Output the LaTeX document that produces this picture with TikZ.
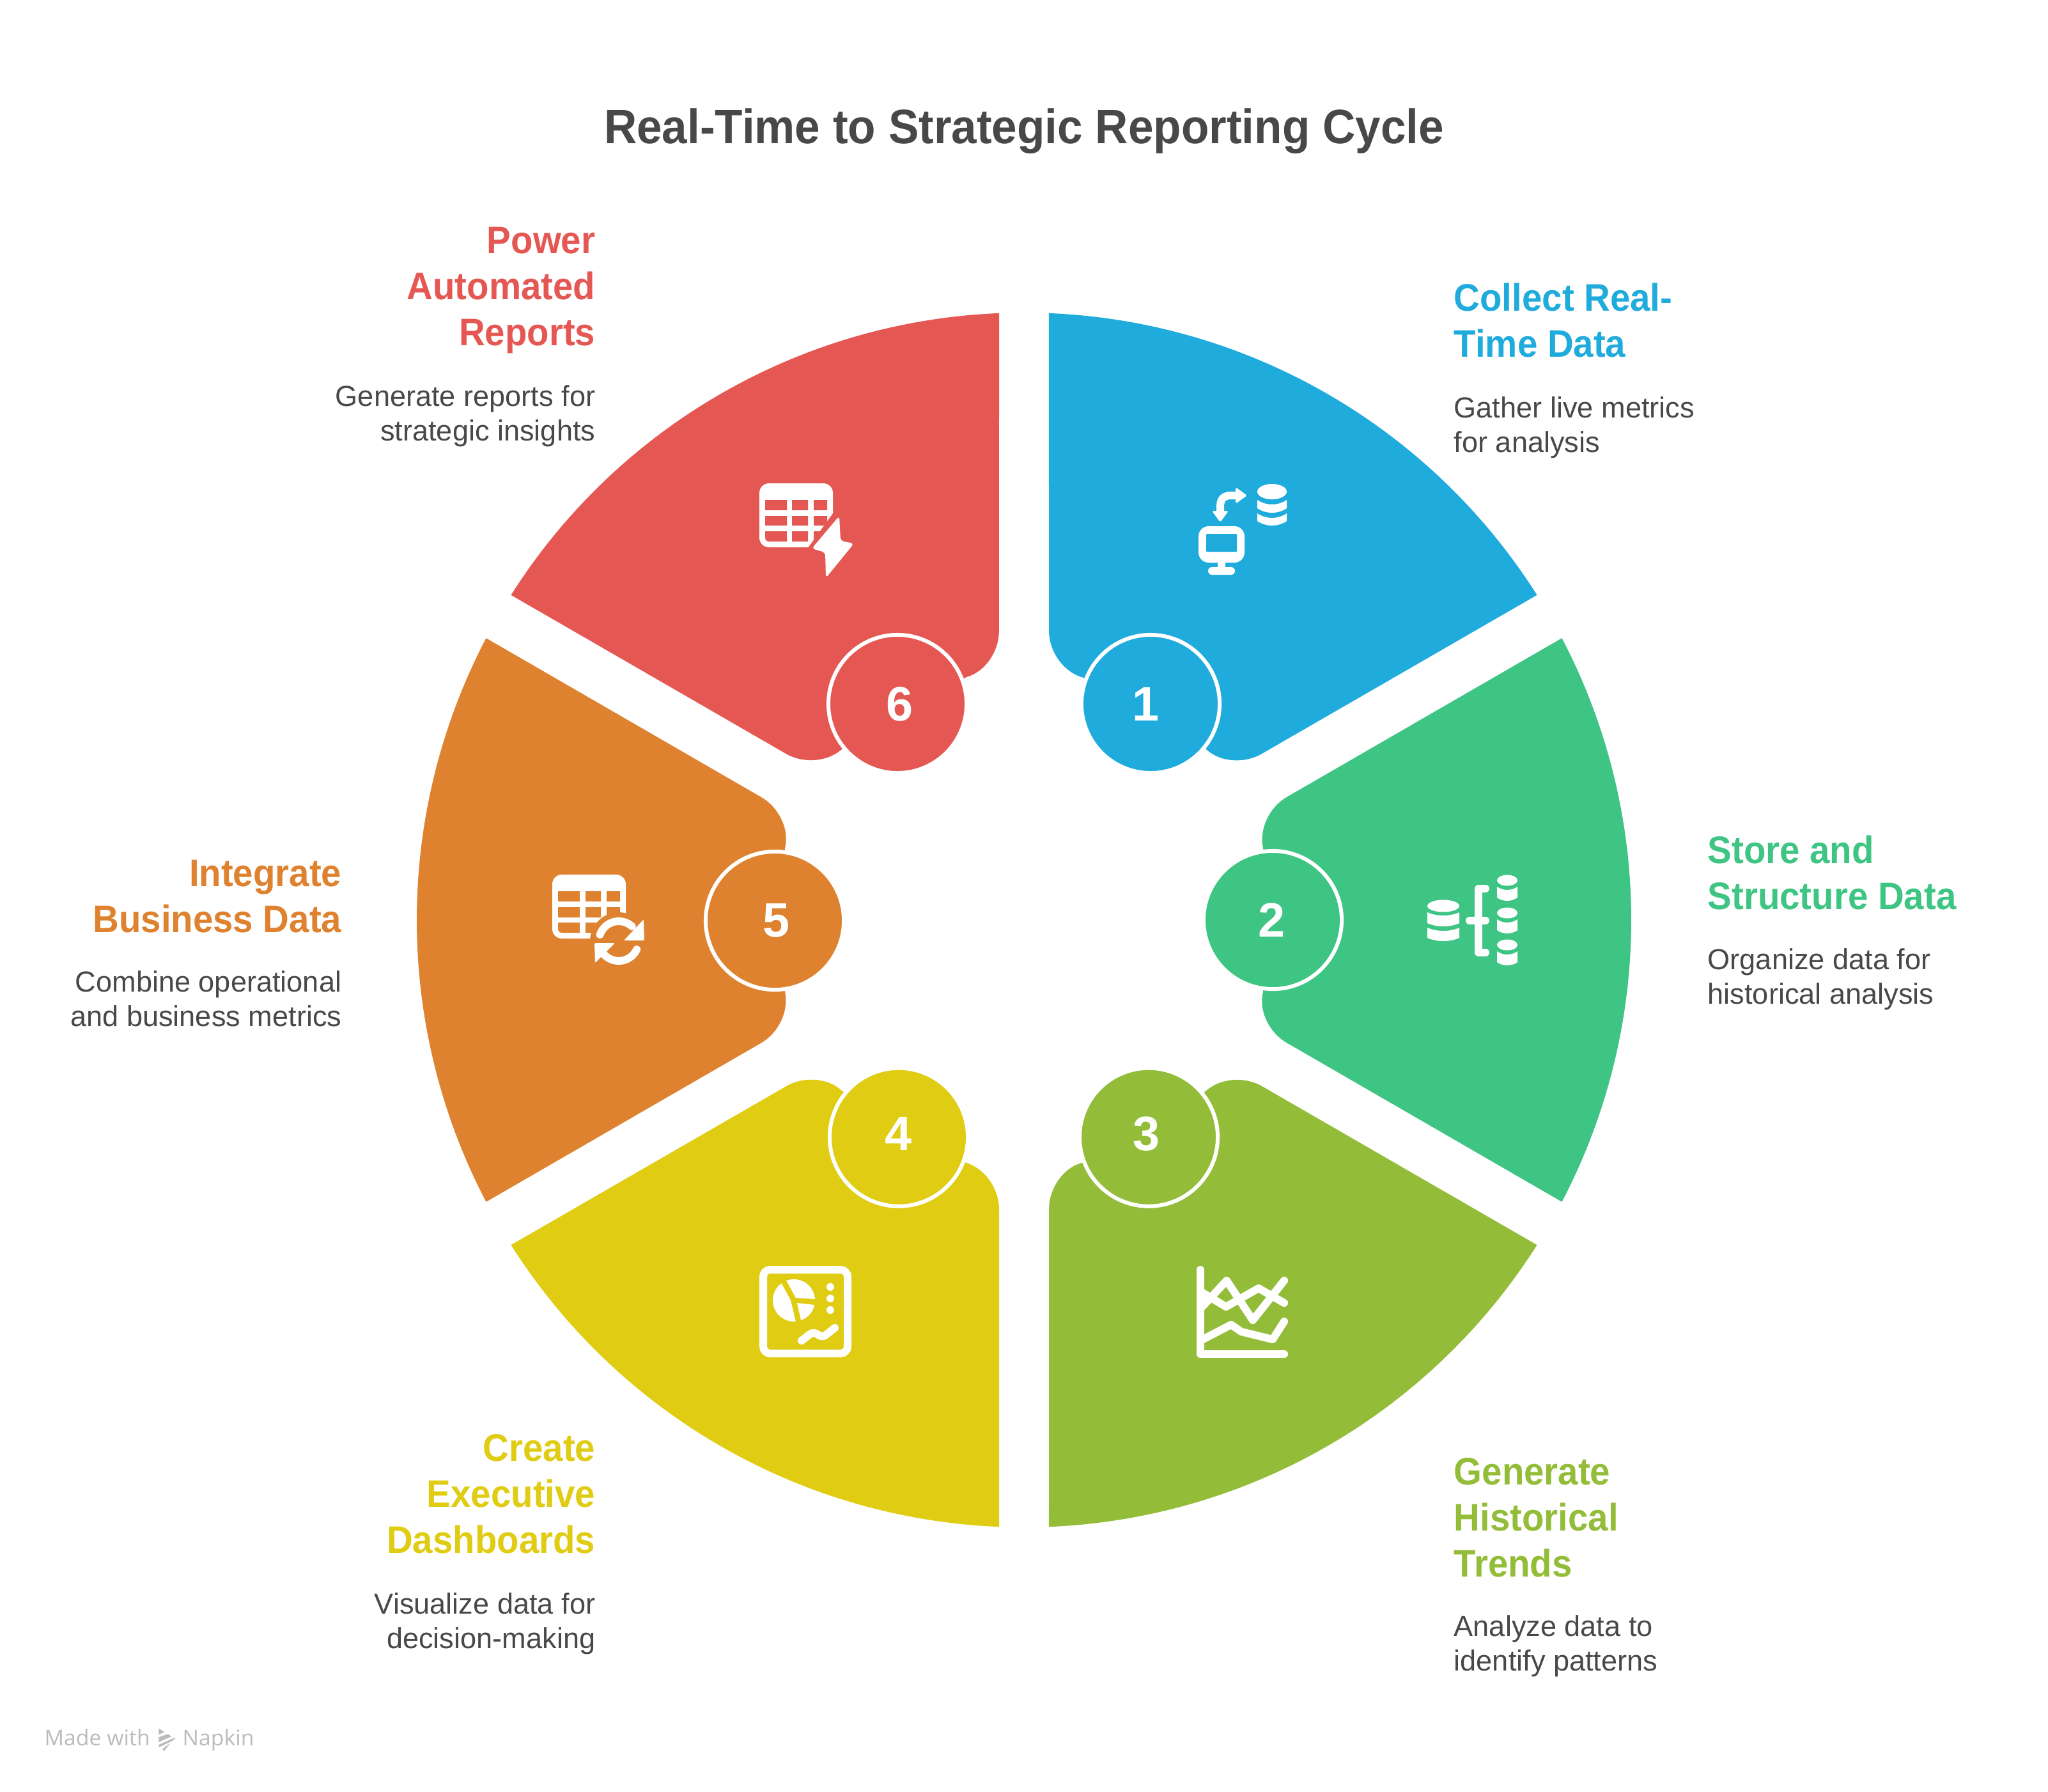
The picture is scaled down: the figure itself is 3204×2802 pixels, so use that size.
\documentclass[tikz,border=0pt]{standalone}
\usepackage{fontspec}
\setmainfont{Liberation Sans}
\newfontfamily\headfont{Liberation Sans}[FakeStretch=0.94]
\newfontfamily\bodyfont{Liberation Sans}[FakeStretch=0.995]
\newfontfamily\footfont{Open Sans}
\definecolor{cblue}{HTML}{1FABDC}
\definecolor{cgreen}{HTML}{3EC483}
\definecolor{colive}{HTML}{93BD39}
\definecolor{cyellow}{HTML}{DFCC13}
\definecolor{corange}{HTML}{DE8230}
\definecolor{cred}{HTML}{E55753}
\definecolor{ctext}{HTML}{484848}
\definecolor{cfoot}{HTML}{BBBBBB}
\newcommand\sectorpath{plot[domain=-87.65:-32.35,samples=80] ({1602+950*cos(\x)},{1439+950*sin(\x)}) -- (1974,1179) .. controls (1948,1194.5) and (1908,1193) .. (1886,1171) -- (1695,1060) .. controls (1662,1051) and (1641,1017) .. (1641,987) -- cycle}
% layer of a database drum: x left, x right, y top, sag, y bottom
\newcommand\dblayer[5]{\fill[white] ({#1},{#3}) .. controls ({#1+0.3*(#2-#1)},{#3+1.33*#4}) and ({#2-0.3*(#2-#1)},{#3+1.33*#4}) .. ({#2},{#3}) -- ({#2},{#5}) .. controls ({#2-0.3*(#2-#1)},{#5+1.33*#4}) and ({#1+0.3*(#2-#1)},{#5+1.33*#4}) .. ({#1},{#5}) -- cycle;}
\tikzset{
  head/.style={inner sep=0pt,font=\headfont\bfseries\fontsize{17.07pt}{20.49pt}\selectfont},
  headl/.style={head,align=left,anchor=north west},
  headr/.style={head,align=right,anchor=north east},
  bodyt/.style={inner sep=0pt,text=ctext,font=\bodyfont\fontsize{12.9pt}{15.37pt}\selectfont},
  bodyl/.style={bodyt,align=left,anchor=north west},
  bodyr/.style={bodyt,align=right,anchor=north east},
  badge/.style={circle,draw=white,line width=0.06cm,inner sep=0pt,minimum size=2.16cm,text=white,font=\bfseries\fontsize{21.5pt}{21.5pt}\selectfont},
  iconline/.style={draw=white,line width=0.12cm,line cap=round,line join=round},
}
\begin{document}
\begin{tikzpicture}[x=0.01cm,y=-0.01cm]
\useasboundingbox (0,0) rectangle (3204,2802);
\fill[white] (0,0) rectangle (3204,2802);
\coordinate (c) at (1602,1439);
% sectors
\foreach \k/\col in {0/cblue,1/cgreen,2/colive,3/cyellow,4/corange,5/cred}{
  \begin{scope}[rotate around={-60*\k:(c)}]
    \fill[\col] \sectorpath;
  \end{scope}
}
% title
\node[inner sep=0pt,text=ctext,anchor=base,font=\headfont\bfseries\fontsize{21.5pt}{24pt}\selectfont] (title) at (1602,224) {Real-Time to Strategic Reporting Cycle};
% badges
\node[badge,fill=cblue] (b1) at (1800,1101) {\kern-0.16cm 1};
\node[badge,fill=cgreen] (b2) at (1991,1439) {\kern-0.04cm 2};
\node[badge,fill=colive] (b3) at (1797,1778.7) {\kern-0.08cm\raisebox{0.11cm}{3}};
\node[badge,fill=cyellow] (b4) at (1406,1778.7) {\raisebox{0.11cm}{4}};
\node[badge,fill=corange] (b5) at (1212,1440) {\kern0.06cm 5};
\node[badge,fill=cred] (b6) at (1404,1101) {\kern0.06cm 6};
% labels
\node[headl,text=cblue] (h1) at (2274,442) {Collect Real-\\Time Data};
\node[bodyl] (t1) at (2274,620) {Gather live metrics\\for analysis};
\node[headl,text=cgreen] (h2) at (2671,1306) {Store and\\Structure Data};
\node[bodyl] (t2) at (2671,1483) {Organize data for\\historical analysis};
\node[headl,text=colive] (h3) at (2274,2280) {Generate\\Historical\\Trends};
\node[bodyl] (t3) at (2274,2526) {Analyze data to\\identify patterns};
\node[headr,text=cyellow] (h4) at (932,2243) {Create\\Executive\\Dashboards};
\node[bodyr] (t4) at (932,2491) {Visualize data for\\decision-making};
\node[headr,text=corange] (h5) at (535,1344) {Integrate\\Business Data};
\node[bodyr] (t5) at (535,1518) {Combine operational\\and business metrics};
\node[headr,text=cred] (h6) at (932,354) {Power\\Automated\\Reports};
\node[bodyr] (t6) at (932,602) {Generate reports for\\strategic insights};
% icon 1
\fill[white,rounded corners=0.16cm] (1875,823) rectangle (1947,880);
\fill[cblue,rounded corners=0.01cm] (1887,835) rectangle (1935,863);
\fill[white] (1905,878) rectangle (1917,890);
\fill[white,rounded corners=0.06cm] (1890,887) rectangle (1932,899);
\draw[white,line width=0.12cm] (1909,800) -- (1909,792) .. controls (1909,780) and (1915,775) .. (1926,775) -- (1936,775);
\fill[white,rounded corners=0.03cm] (1896,799) -- (1922,799) -- (1909,817) -- cycle;
\fill[white,rounded corners=0.03cm] (1933,762) -- (1951,775) -- (1933,788) -- cycle;
\fill[white] (1990,769) ellipse [x radius=23,y radius=12];
\dblayer{1967}{2013}{782}{7}{795}
\dblayer{1967}{2013}{803}{7}{815}
% icon 2
\fill[white] (2258,1417) ellipse [x radius=25,y radius=9.5];
\dblayer{2233}{2283}{1427}{5}{1444}
\dblayer{2233}{2283}{1451}{5}{1467}
\draw[iconline] (2324,1390) -- (2313,1390) -- (2313,1490) -- (2324,1490);
\draw[iconline] (2299,1440) -- (2324,1440);
\foreach \d in {0,51,101}{
  \fill[white] (2358,1377+\d) ellipse [x radius=16,y radius=8.5];
  \dblayer{2342}{2374}{1387+\d}{5}{1404+\d}
}
% icon 3
\draw[iconline] (1878,1986) -- (1878,2118) -- (2009,2118);
\draw[iconline] (1878,2047) -- (1919,2003) -- (1960,2065) -- (2009,2003);
\draw[iconline] (1878,2020) -- (1918,2044) -- (1969,2015) -- (2009,2038);
\draw[iconline] (1878,2097) -- (1926,2072) -- (1942,2083) -- (1991,2095) -- (2009,2067);
% icon 4
\draw[white,line width=0.12cm,rounded corners=0.11cm] (1194,1986) rectangle (1326,2117);
\fill[white] (1237,2034) -- plot[domain=234:85,samples=30] ({1242+33*cos(\x)},{2034+33*sin(\x)}) -- cycle;
\fill[white] (1245,2030) -- plot[domain=249:356.5,samples=30] ({1242+33*cos(\x)},{2034+33*sin(\x)}) -- cycle;
\fill[white] (1247,2038) -- plot[domain=12.3:70.5,samples=20] ({1242+33*cos(\x)},{2034+33*sin(\x)}) -- cycle;
\fill[white] (1299,2013) circle [radius=6] (1299,2031) circle [radius=6] (1299,2049) circle [radius=6];
\draw[white,line width=0.12cm,line cap=round,rounded corners=0.06cm] (1254,2097) -- (1272,2083) -- (1287,2092) -- (1306,2077);
% icon 5
\fill[white,rounded corners=0.15cm] (864,1368) rectangle (979,1468);
\fill[corange] (873,1394) rectangle (907,1410) (916,1394) rectangle (940,1410) (949,1394) rectangle (970,1410);
\fill[corange] (873,1419) rectangle (907,1435) (916,1419) rectangle (940,1435) (949,1419) rectangle (970,1435);
\fill[corange] (873,1443) [rounded corners=0.06cm] -- (873,1459) [sharp corners] -- (907,1459) -- (907,1443) -- cycle;
\fill[corange] (916,1443) rectangle (940,1459) (949,1443) rectangle (970,1459);
\fill[corange] (968,1472) circle [radius=45];
\draw[white,line width=0.12cm,line cap=round] plot[domain=199:312,samples=24] ({968+31*cos(\x)},{1472+31*sin(\x)});
\draw[white,line width=0.12cm,line cap=round] plot[domain=25:137,samples=24] ({968+31*cos(\x)},{1472+31*sin(\x)});
\fill[white,rounded corners=0.02cm] (1007,1438) -- (1008,1471) -- (976,1471) -- cycle;
\fill[white,rounded corners=0.02cm] (930,1475) -- (962,1475) -- (931,1506) -- cycle;
% icon 6
\fill[white,rounded corners=0.15cm] (1188,756) rectangle (1303,856);
\fill[cred] (1197,782) rectangle (1231,798) (1239,782) rectangle (1264,798) (1273,782) rectangle (1294,798);
\fill[cred] (1197,807) rectangle (1231,822) (1239,807) rectangle (1264,822) (1273,807) rectangle (1294,822);
\fill[cred] (1197,831) [rounded corners=0.06cm] -- (1197,847) [sharp corners] -- (1231,847) -- (1231,831) -- cycle;
\fill[cred] (1239,831) rectangle (1264,847) (1273,831) rectangle (1294,847);
\fill[cred] (1303,803) -- (1264,857) -- (1310,862) -- (1310,803) -- cycle;
\fill[white,rounded corners=0.05cm] (1313,807) -- (1270,858) -- (1291,864) -- (1292,904) -- (1336,850) -- (1315,846) -- cycle;
% footer
\node[inner sep=0pt,text=cfoot,anchor=base west,font=\footfont\fontsize{9.6pt}{11pt}\selectfont] (made) at (69,2730) {Made with};
\node[inner sep=0pt,text=cfoot,anchor=base west,font=\footfont\fontsize{9.6pt}{11pt}\selectfont] (napkin) at (285,2730) {Napkin};
\fill[cfoot] (248.3,2703.3) -- (257.3,2709.3) -- (248.3,2713.3) -- cycle;
\fill[cfoot] (248.3,2717.3) -- (262.7,2712.3) -- (268.3,2716) -- (248.3,2725) -- cycle;
\fill[cfoot] (248.3,2729) -- (271.7,2718.7) -- (275,2718.3) -- (270,2722.7) -- (248.3,2733.3) -- cycle;
\fill[cfoot] (255,2735) -- (266.7,2726) -- (256.7,2739) -- (253.3,2735) -- cycle;
\end{tikzpicture}
\end{document}
